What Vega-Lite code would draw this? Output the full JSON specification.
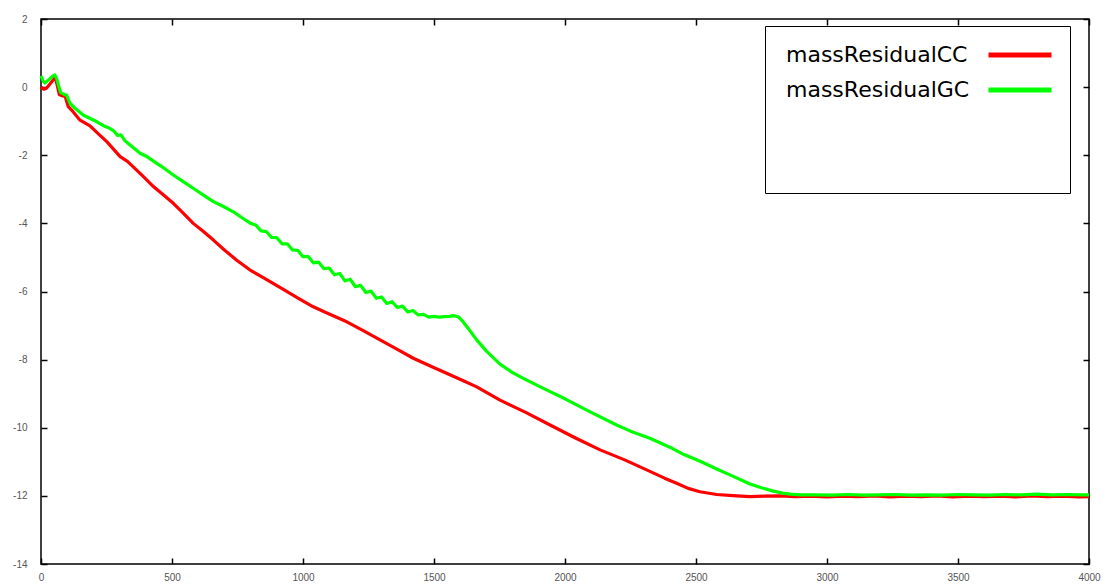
{
  "$schema": "https://vega.github.io/schema/vega-lite/v6.json",
  "width": 1048,
  "height": 545,
  "autosize": {"type": "none"},
  "padding": {"left": 41, "top": 19, "right": 15, "bottom": 22},
  "background": "white",
  "config": {
    "view": {"stroke": "black", "strokeWidth": 1.5},
    "axis": {
      "grid": false,
      "domain": false,
      "tickColor": "black",
      "tickWidth": 1.5,
      "tickSize": -6,
      "labelFont": "Liberation Sans",
      "labelFontSize": 10,
      "labelColor": "#555555",
      "title": null
    }
  },
  "data": {
    "values": [
      {"s": "massResidualCC", "x": 0, "y": 0.0},
      {"s": "massResidualCC", "x": 10, "y": -0.06},
      {"s": "massResidualCC", "x": 20, "y": -0.04},
      {"s": "massResidualCC", "x": 35, "y": 0.1},
      {"s": "massResidualCC", "x": 50, "y": 0.25},
      {"s": "massResidualCC", "x": 55, "y": 0.27},
      {"s": "massResidualCC", "x": 62, "y": 0.05},
      {"s": "massResidualCC", "x": 70, "y": -0.22},
      {"s": "massResidualCC", "x": 80, "y": -0.25},
      {"s": "massResidualCC", "x": 92, "y": -0.27},
      {"s": "massResidualCC", "x": 104, "y": -0.57},
      {"s": "massResidualCC", "x": 120, "y": -0.7},
      {"s": "massResidualCC", "x": 149, "y": -0.97},
      {"s": "massResidualCC", "x": 187, "y": -1.14},
      {"s": "massResidualCC", "x": 220, "y": -1.38},
      {"s": "massResidualCC", "x": 251, "y": -1.6},
      {"s": "massResidualCC", "x": 280, "y": -1.85},
      {"s": "massResidualCC", "x": 302, "y": -2.04},
      {"s": "massResidualCC", "x": 330, "y": -2.18},
      {"s": "massResidualCC", "x": 352, "y": -2.34},
      {"s": "massResidualCC", "x": 390, "y": -2.62},
      {"s": "massResidualCC", "x": 429, "y": -2.92},
      {"s": "massResidualCC", "x": 470, "y": -3.18},
      {"s": "massResidualCC", "x": 505, "y": -3.41},
      {"s": "massResidualCC", "x": 540, "y": -3.68},
      {"s": "massResidualCC", "x": 581, "y": -4.0},
      {"s": "massResidualCC", "x": 620, "y": -4.24},
      {"s": "massResidualCC", "x": 658, "y": -4.49},
      {"s": "massResidualCC", "x": 700, "y": -4.78},
      {"s": "massResidualCC", "x": 747, "y": -5.08},
      {"s": "massResidualCC", "x": 798, "y": -5.37},
      {"s": "massResidualCC", "x": 850, "y": -5.6},
      {"s": "massResidualCC", "x": 912, "y": -5.88},
      {"s": "massResidualCC", "x": 976, "y": -6.17},
      {"s": "massResidualCC", "x": 1039, "y": -6.45},
      {"s": "massResidualCC", "x": 1100, "y": -6.66},
      {"s": "massResidualCC", "x": 1167, "y": -6.89},
      {"s": "massResidualCC", "x": 1230, "y": -7.15},
      {"s": "massResidualCC", "x": 1294, "y": -7.42},
      {"s": "massResidualCC", "x": 1360, "y": -7.7},
      {"s": "massResidualCC", "x": 1421, "y": -7.96},
      {"s": "massResidualCC", "x": 1490, "y": -8.2},
      {"s": "massResidualCC", "x": 1548, "y": -8.4},
      {"s": "massResidualCC", "x": 1612, "y": -8.62},
      {"s": "massResidualCC", "x": 1663, "y": -8.8},
      {"s": "massResidualCC", "x": 1752, "y": -9.19},
      {"s": "massResidualCC", "x": 1850, "y": -9.55},
      {"s": "massResidualCC", "x": 1943, "y": -9.92},
      {"s": "massResidualCC", "x": 2040, "y": -10.3},
      {"s": "massResidualCC", "x": 2134, "y": -10.65},
      {"s": "massResidualCC", "x": 2230, "y": -10.95},
      {"s": "massResidualCC", "x": 2324, "y": -11.28},
      {"s": "massResidualCC", "x": 2380, "y": -11.48},
      {"s": "massResidualCC", "x": 2426, "y": -11.63},
      {"s": "massResidualCC", "x": 2470, "y": -11.78},
      {"s": "massResidualCC", "x": 2515, "y": -11.88},
      {"s": "massResidualCC", "x": 2579, "y": -11.96},
      {"s": "massResidualCC", "x": 2641, "y": -11.99},
      {"s": "massResidualCC", "x": 2706, "y": -12.02},
      {"s": "massResidualCC", "x": 2760, "y": -12.01},
      {"s": "massResidualCC", "x": 2820, "y": -12.0},
      {"s": "massResidualCC", "x": 2880, "y": -12.02},
      {"s": "massResidualCC", "x": 2940, "y": -12.01},
      {"s": "massResidualCC", "x": 3000, "y": -12.03},
      {"s": "massResidualCC", "x": 3060, "y": -12.01},
      {"s": "massResidualCC", "x": 3120, "y": -12.02},
      {"s": "massResidualCC", "x": 3180, "y": -12.0},
      {"s": "massResidualCC", "x": 3240, "y": -12.03},
      {"s": "massResidualCC", "x": 3300, "y": -12.01},
      {"s": "massResidualCC", "x": 3360, "y": -12.02},
      {"s": "massResidualCC", "x": 3420, "y": -12.0},
      {"s": "massResidualCC", "x": 3480, "y": -12.03},
      {"s": "massResidualCC", "x": 3540, "y": -12.01},
      {"s": "massResidualCC", "x": 3600, "y": -12.02},
      {"s": "massResidualCC", "x": 3660, "y": -12.01},
      {"s": "massResidualCC", "x": 3720, "y": -12.03},
      {"s": "massResidualCC", "x": 3780, "y": -12.0},
      {"s": "massResidualCC", "x": 3840, "y": -12.02},
      {"s": "massResidualCC", "x": 3900, "y": -12.01},
      {"s": "massResidualCC", "x": 3960, "y": -12.03},
      {"s": "massResidualCC", "x": 4000, "y": -12.02},

      {"s": "massResidualGC", "x": 0, "y": 0.33},
      {"s": "massResidualGC", "x": 8, "y": 0.18},
      {"s": "massResidualGC", "x": 15, "y": 0.12},
      {"s": "massResidualGC", "x": 30, "y": 0.22},
      {"s": "massResidualGC", "x": 45, "y": 0.33},
      {"s": "massResidualGC", "x": 53, "y": 0.36},
      {"s": "massResidualGC", "x": 60, "y": 0.25},
      {"s": "massResidualGC", "x": 68, "y": 0.02},
      {"s": "massResidualGC", "x": 75, "y": -0.16},
      {"s": "massResidualGC", "x": 85, "y": -0.2},
      {"s": "massResidualGC", "x": 98, "y": -0.24},
      {"s": "massResidualGC", "x": 111, "y": -0.48},
      {"s": "massResidualGC", "x": 130, "y": -0.62},
      {"s": "massResidualGC", "x": 161, "y": -0.82},
      {"s": "massResidualGC", "x": 190, "y": -0.93},
      {"s": "massResidualGC", "x": 212, "y": -1.01},
      {"s": "massResidualGC", "x": 240, "y": -1.14},
      {"s": "massResidualGC", "x": 260, "y": -1.2},
      {"s": "massResidualGC", "x": 280, "y": -1.3},
      {"s": "massResidualGC", "x": 292, "y": -1.42},
      {"s": "massResidualGC", "x": 305, "y": -1.4},
      {"s": "massResidualGC", "x": 320, "y": -1.57},
      {"s": "massResidualGC", "x": 340, "y": -1.7},
      {"s": "massResidualGC", "x": 378, "y": -1.94},
      {"s": "massResidualGC", "x": 400, "y": -2.02},
      {"s": "massResidualGC", "x": 442, "y": -2.24},
      {"s": "massResidualGC", "x": 470, "y": -2.38},
      {"s": "massResidualGC", "x": 505, "y": -2.58},
      {"s": "massResidualGC", "x": 540, "y": -2.76},
      {"s": "massResidualGC", "x": 581, "y": -2.97},
      {"s": "massResidualGC", "x": 620, "y": -3.17},
      {"s": "massResidualGC", "x": 658, "y": -3.36},
      {"s": "massResidualGC", "x": 700, "y": -3.52},
      {"s": "massResidualGC", "x": 734, "y": -3.66},
      {"s": "massResidualGC", "x": 770, "y": -3.85},
      {"s": "massResidualGC", "x": 800, "y": -4.0},
      {"s": "massResidualGC", "x": 820, "y": -4.05},
      {"s": "massResidualGC", "x": 840, "y": -4.22},
      {"s": "massResidualGC", "x": 860, "y": -4.24},
      {"s": "massResidualGC", "x": 880, "y": -4.41},
      {"s": "massResidualGC", "x": 900, "y": -4.42},
      {"s": "massResidualGC", "x": 920, "y": -4.6},
      {"s": "massResidualGC", "x": 940, "y": -4.6},
      {"s": "massResidualGC", "x": 960, "y": -4.78},
      {"s": "massResidualGC", "x": 980, "y": -4.79},
      {"s": "massResidualGC", "x": 1000, "y": -4.98},
      {"s": "massResidualGC", "x": 1020, "y": -4.97},
      {"s": "massResidualGC", "x": 1040, "y": -5.16},
      {"s": "massResidualGC", "x": 1060, "y": -5.14},
      {"s": "massResidualGC", "x": 1080, "y": -5.33},
      {"s": "massResidualGC", "x": 1100, "y": -5.31},
      {"s": "massResidualGC", "x": 1120, "y": -5.51},
      {"s": "massResidualGC", "x": 1140, "y": -5.47},
      {"s": "massResidualGC", "x": 1160, "y": -5.69},
      {"s": "massResidualGC", "x": 1180, "y": -5.64},
      {"s": "massResidualGC", "x": 1200, "y": -5.86},
      {"s": "massResidualGC", "x": 1220, "y": -5.82},
      {"s": "massResidualGC", "x": 1240, "y": -6.03},
      {"s": "massResidualGC", "x": 1260, "y": -5.99},
      {"s": "massResidualGC", "x": 1280, "y": -6.2},
      {"s": "massResidualGC", "x": 1300, "y": -6.16},
      {"s": "massResidualGC", "x": 1320, "y": -6.35},
      {"s": "massResidualGC", "x": 1340, "y": -6.3},
      {"s": "massResidualGC", "x": 1360, "y": -6.47},
      {"s": "massResidualGC", "x": 1380, "y": -6.43},
      {"s": "massResidualGC", "x": 1400, "y": -6.6},
      {"s": "massResidualGC", "x": 1420, "y": -6.56},
      {"s": "massResidualGC", "x": 1440, "y": -6.69},
      {"s": "massResidualGC", "x": 1460, "y": -6.67},
      {"s": "massResidualGC", "x": 1480, "y": -6.75},
      {"s": "massResidualGC", "x": 1500, "y": -6.73},
      {"s": "massResidualGC", "x": 1520, "y": -6.75},
      {"s": "massResidualGC", "x": 1540, "y": -6.74},
      {"s": "massResidualGC", "x": 1560, "y": -6.73},
      {"s": "massResidualGC", "x": 1575, "y": -6.71},
      {"s": "massResidualGC", "x": 1592, "y": -6.74},
      {"s": "massResidualGC", "x": 1610, "y": -6.88},
      {"s": "massResidualGC", "x": 1630, "y": -7.08},
      {"s": "massResidualGC", "x": 1663, "y": -7.42},
      {"s": "massResidualGC", "x": 1700, "y": -7.75},
      {"s": "massResidualGC", "x": 1752, "y": -8.13},
      {"s": "massResidualGC", "x": 1800, "y": -8.38},
      {"s": "massResidualGC", "x": 1841, "y": -8.55},
      {"s": "massResidualGC", "x": 1900, "y": -8.78},
      {"s": "massResidualGC", "x": 1943, "y": -8.94},
      {"s": "massResidualGC", "x": 2000, "y": -9.15},
      {"s": "massResidualGC", "x": 2070, "y": -9.43},
      {"s": "massResidualGC", "x": 2100, "y": -9.55},
      {"s": "massResidualGC", "x": 2197, "y": -9.92},
      {"s": "massResidualGC", "x": 2250, "y": -10.1},
      {"s": "massResidualGC", "x": 2324, "y": -10.31},
      {"s": "massResidualGC", "x": 2400, "y": -10.57},
      {"s": "massResidualGC", "x": 2452, "y": -10.78},
      {"s": "massResidualGC", "x": 2520, "y": -11.0},
      {"s": "massResidualGC", "x": 2579, "y": -11.21},
      {"s": "massResidualGC", "x": 2640, "y": -11.42},
      {"s": "massResidualGC", "x": 2706, "y": -11.65},
      {"s": "massResidualGC", "x": 2750, "y": -11.76},
      {"s": "massResidualGC", "x": 2795, "y": -11.86},
      {"s": "massResidualGC", "x": 2830, "y": -11.92},
      {"s": "massResidualGC", "x": 2860, "y": -11.95},
      {"s": "massResidualGC", "x": 2900, "y": -11.97},
      {"s": "massResidualGC", "x": 2960, "y": -11.97},
      {"s": "massResidualGC", "x": 3020, "y": -11.98},
      {"s": "massResidualGC", "x": 3080, "y": -11.96},
      {"s": "massResidualGC", "x": 3140, "y": -11.98},
      {"s": "massResidualGC", "x": 3200, "y": -11.97},
      {"s": "massResidualGC", "x": 3260, "y": -11.96},
      {"s": "massResidualGC", "x": 3320, "y": -11.98},
      {"s": "massResidualGC", "x": 3380, "y": -11.97},
      {"s": "massResidualGC", "x": 3440, "y": -11.98},
      {"s": "massResidualGC", "x": 3500, "y": -11.96},
      {"s": "massResidualGC", "x": 3560, "y": -11.97},
      {"s": "massResidualGC", "x": 3620, "y": -11.98},
      {"s": "massResidualGC", "x": 3680, "y": -11.96},
      {"s": "massResidualGC", "x": 3740, "y": -11.97},
      {"s": "massResidualGC", "x": 3800, "y": -11.95},
      {"s": "massResidualGC", "x": 3860, "y": -11.97},
      {"s": "massResidualGC", "x": 3920, "y": -11.96},
      {"s": "massResidualGC", "x": 3980, "y": -11.97},
      {"s": "massResidualGC", "x": 4000, "y": -11.97}
    ]
  },
  "layer": [
    {
      "mark": {"type": "line", "strokeWidth": 3.2, "strokeJoin": "round"},
      "encoding": {
        "x": {
          "field": "x",
          "type": "quantitative",
          "scale": {"domain": [0, 4000], "nice": false},
          "axis": {
            "orient": "bottom",
            "values": [0, 500, 1000, 1500, 2000, 2500, 3000, 3500, 4000],
            "labelPadding": 14,
            "labelFlush": false,
            "labelExpr": "'' + datum.value"
          }
        },
        "y": {
          "field": "y",
          "type": "quantitative",
          "scale": {"domain": [-14, 2], "nice": false, "zero": false},
          "axis": {
            "orient": "left",
            "values": [-14, -12, -10, -8, -6, -4, -2, 0, 2],
            "labelPadding": 20,
            "labelExpr": "datum.value < 0 ? '-' + abs(datum.value) : '' + datum.value"
          }
        },
        "color": {
          "field": "s",
          "type": "nominal",
          "scale": {
            "domain": ["massResidualCC", "massResidualGC"],
            "range": ["#ff0000", "#00ff00"]
          },
          "legend": {
            "orient": "none",
            "legendX": 724,
            "legendY": 7,
            "direction": "vertical",
            "fillColor": "white",
            "strokeColor": "black",
            "padding": 16,
            "symbolType": "M-3,0H3",
            "symbolSize": 441,
            "symbolStrokeWidth": 5,
            "symbolOffset": 226,
            "labelOffset": -247,
            "labelAlign": "left",
            "labelFont": "DejaVu Sans",
            "labelFontSize": 22,
            "labelColor": "black",
            "labelLimit": 0,
            "rowPadding": 11,
            "title": " ",
            "titleOrient": "bottom",
            "titleFontSize": 60,
            "titlePadding": 17,
            "encode": {
              "symbols": {"update": {"strokeJoin": {"value": "round"}}}
            }
          }
        }
      }
    },
    {
      "mark": {"type": "point", "opacity": 0},
      "encoding": {
        "x": {
          "field": "x",
          "type": "quantitative",
          "scale": {"domain": [0, 4000], "nice": false},
          "axis": {
            "orient": "top",
            "values": [0, 500, 1000, 1500, 2000, 2500, 3000, 3500, 4000],
            "labels": false
          }
        },
        "y": {
          "field": "y",
          "type": "quantitative",
          "scale": {"domain": [-14, 2], "nice": false, "zero": false},
          "axis": {
            "orient": "right",
            "values": [-14, -12, -10, -8, -6, -4, -2, 0, 2],
            "labels": false
          }
        }
      }
    }
  ],
  "resolve": {"axis": {"x": "independent", "y": "independent"}}
}
